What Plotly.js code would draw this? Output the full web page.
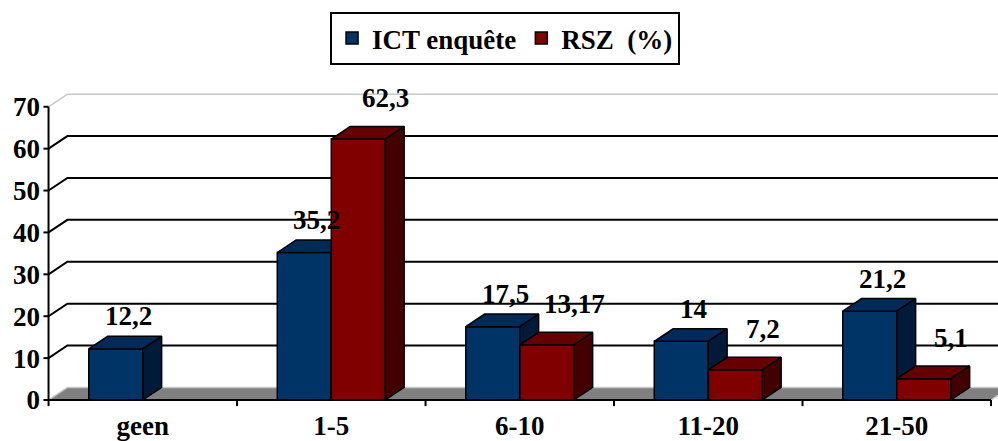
<!DOCTYPE html>
<html>
<head>
<meta charset="utf-8">
<script src="https://cdn.plot.ly/plotly-3.0.1.min.js"></script>
<style>html,body{margin:0;padding:0;overflow:hidden;background:#fff}</style>
</head>
<body>
<div id="chart" style="width:998px;height:441px"></div>
<script>
// ---- data ----
const categories = ['geen', '1-5', '6-10', '11-20', '21-50'];
const ictValues = [12.2, 35.2, 17.5, 14, 21.2];
const rszValues = [null, 62.3, 13.17, 7.2, 5.1];
const seriesNames = ['ICT enquête', 'RSZ\u00a0\u00a0(%)'];
const yTicks = [0, 10, 20, 30, 40, 50, 60, 70];

// ---- style ----
const FONT = {family: 'Liberation Serif', size: 27, color: '#000'};
const B = t => '<b>' + t + '</b>';
const frontCol = ['#003366', '#800000'];
const topCol = ['#002a57', '#660000'];
const sideCol = ['#001b3a', '#420000'];
const BW = 0.2866;   // bar width (category units)
const DX = 0.10;     // depth x (category units)
const DY = 3.0;      // depth y (value units)
const TKX = 0.027;   // y tick length
const TKY = 1.45;    // x tick length
const nCat = categories.length;
const yMax = yTicks[yTicks.length - 1];

const traces = [];
const fmt = v => String(v).replace('.', ',');

// floor
traces.push({x: [0, nCat, nCat + DX, DX, 0], y: [0, 0, DY, DY, 0], mode: 'lines', fill: 'toself',
  fillcolor: '#808080', line: {color: '#c8c8c8', width: 1.5}, showlegend: false, hoverinfo: 'skip'});

// back-wall gridlines with diagonals
const gx = [], gy = [], lx = [], ly = [];
yTicks.forEach(v => {
  if (v === 0) return;
  const tx = (v === yMax) ? lx : gx, ty = (v === yMax) ? ly : gy;
  tx.push(0, DX, nCat + DX, null); ty.push(v, v + DY, v + DY, null);
});
traces.push({x: gx, y: gy, mode: 'lines', line: {color: '#000', width: 2}, showlegend: false, hoverinfo: 'skip'});
traces.push({x: lx, y: ly, mode: 'lines', line: {color: '#c8c8c8', width: 1.5}, showlegend: false, hoverinfo: 'skip'});

// 3-D bars (front, top, side faces)
[ictValues, rszValues].forEach((vals, s) => {
  vals.forEach((v, i) => {
    if (v === null) return;
    const x0 = i + 0.5 - BW + s * BW, x1 = x0 + BW;
    const common = {mode: 'lines', fill: 'toself', line: {color: '#000', width: 1.5}, showlegend: false, hoverinfo: 'skip'};
    traces.push(Object.assign({x: [x0, x1, x1, x0, x0], y: [0, 0, v, v, 0], fillcolor: frontCol[s]}, common));
    traces.push(Object.assign({x: [x0, x1, x1 + DX, x0 + DX, x0], y: [v, v, v + DY, v + DY, v], fillcolor: topCol[s]}, common));
    traces.push(Object.assign({x: [x1, x1 + DX, x1 + DX, x1, x1], y: [0, DY, v + DY, v, 0], fillcolor: sideCol[s]}, common));
  });
});

// axis lines and ticks
const ax = [0, 0, null, 0, nCat, null], ay = [yMax, 0, null, 0, 0, null];
yTicks.forEach(v => { ax.push(-TKX, 0, null); ay.push(v, v, null); });
for (let k = 0; k <= nCat; k++) { ax.push(k, k, null); ay.push(0, -TKY, null); }
traces.push({x: ax, y: ay, mode: 'lines', line: {color: '#000', width: 2}, showlegend: false, hoverinfo: 'skip'});

// legend entries
seriesNames.forEach((n, s) => {
  traces.push({type: 'bar', x: [-10], y: [1], name: B(n), marker: {color: frontCol[s], line: {color: '#000', width: 1.5}}, hoverinfo: 'skip'});
});

// value labels
const annotations = [];
[ictValues, rszValues].forEach((vals, s) => {
  vals.forEach((v, i) => {
    if (v === null) return;
    const xc = i + 0.5 - BW / 2 + s * BW + DX / 2;
    annotations.push({x: xc, y: v + DY, xref: 'x', yref: 'y', text: B(fmt(v)), showarrow: false,
      font: FONT, xanchor: 'center', yanchor: 'middle', xshift: s ? 18 : 3, yshift: s ? 28 : 20});
  });
});

const layout = {
  width: 998, height: 441,
  margin: {l: 41, r: 0, t: 90, b: 34},
  paper_bgcolor: '#fff', plot_bgcolor: 'rgba(0,0,0,0)',
  showlegend: true,
  legend: {orientation: 'h', x: 0.4849, xanchor: 'center', y: 1.2461, yanchor: 'top',
    font: FONT, bordercolor: '#000', borderwidth: 2, bgcolor: '#fff', traceorder: 'normal'},
  xaxis: {range: [-0.04, 5.037], tickmode: 'array', tickvals: categories.map((c, i) => i + 0.5), ticktext: categories.map(B),
    ticks: '', showgrid: false, zeroline: false, showline: false, tickfont: FONT, fixedrange: true},
  yaxis: {range: [-1.67, 74], tickmode: 'array', tickvals: yTicks, ticktext: yTicks.map(v => B(String(v))),
    ticks: '', showgrid: false, zeroline: false, showline: false, tickfont: FONT, fixedrange: true},
  annotations: annotations
};

Plotly.newPlot('chart', traces, layout, {displayModeBar: false, staticPlot: true});
</script>
</body>
</html>
